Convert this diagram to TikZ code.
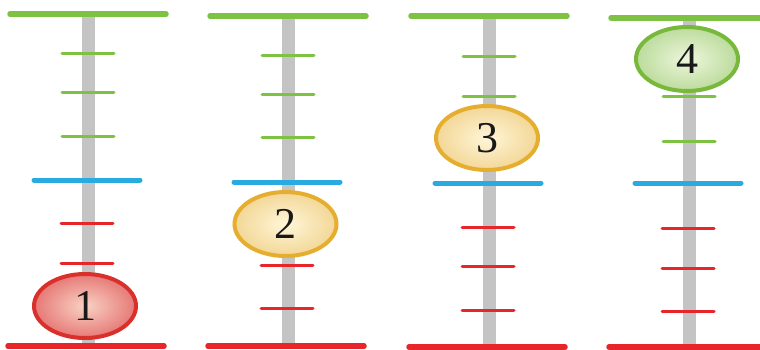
\documentclass[tikz,border=0pt]{standalone}
\usepackage{fontspec}
\setmainfont{Liberation Serif}
\usetikzlibrary{shapes.geometric}
\definecolor{lgreen}{HTML}{7DC242}
\definecolor{lblue}{HTML}{29ABE2}
\definecolor{lred}{HTML}{E8262A}
\definecolor{pole}{HTML}{C4C4C4}
\definecolor{redrim}{HTML}{D9302C}
\definecolor{redin}{HTML}{F8D2C4}
\definecolor{goldrim}{HTML}{E6AE2E}
\definecolor{goldin}{HTML}{FFF6D8}
\definecolor{greenrim}{HTML}{78B83A}
\definecolor{greenin}{HTML}{EEF6DC}
\tikzset{
  poleline/.style={line width=13pt, draw=pole},
  endline/.style={line width=5.5pt, line cap=round},
  midline/.style={line width=5pt, line cap=round, draw=lblue},
  tickline/.style={line width=3pt, line cap=round},
  bead/.style={ellipse, minimum width=102pt, minimum height=64pt, inner sep=0pt,
    line width=4pt, font=\fontsize{44}{44}\selectfont, text=black!90},
  redbead/.style={bead, draw=redrim, shading=radial, inner color=redin, outer color=redrim!65},
  goldbead/.style={bead, draw=goldrim, shading=radial, inner color=goldin, outer color=goldrim!50},
  greenbead/.style={bead, draw=greenrim, shading=radial, inner color=greenin, outer color=greenrim!50},
}
\begin{document}
\begin{tikzpicture}[x=1pt,y=-1pt]
\useasboundingbox (0,0) rectangle (760,349);
% columns: pole x, top y, bottom y, green ticks, blue, red ticks
\foreach \px/\ty/\by/\gA/\gB/\gC/\bl/\rA/\rB/\rC in {
  88/14/346/53/92/136/180/223/263/307,
  288/16/346/55/94/137/182/225/265/308,
  489/16/347/56/96/138/183/227/266/310,
  689/18/347/57/96/141/183/228/268/311}{
  \draw[poleline] (\px,\ty) -- (\px,\by);
  \draw[endline, draw=lgreen] (\px-78,\ty) -- (\px+78,\ty);
  \draw[endline, draw=lred] (\px-80,\by) -- (\px+76,\by);
  \foreach \g in {\gA,\gB,\gC}
    \draw[tickline, draw=lgreen] (\px-26,\g) -- (\px+26,\g);
  \draw[midline] (\px-54,\bl) -- (\px+52,\bl);
  \foreach \r in {\rA,\rB,\rC}
    \draw[tickline, draw=lred] (\px-27,\r) -- (\px+25,\r);
}
\node[redbead] (b1) at (85,306) {1};
\node[goldbead] (b2) at (285.5,224) {2};
\node[goldbead] (b3) at (487,138) {3};
\node[greenbead] (b4) at (687,59) {4};
\end{tikzpicture}
\end{document}
